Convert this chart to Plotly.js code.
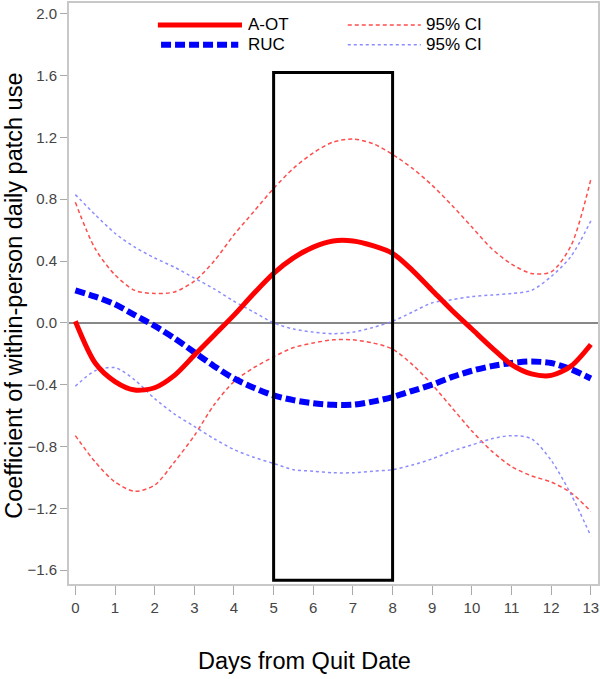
<!DOCTYPE html>
<html>
<head>
<meta charset="utf-8">
<script src="https://cdn.plot.ly/plotly-3.0.1.min.js"></script>
<style>
  html, body { margin: 0; padding: 0; background: #fff; }
  #chart { width: 600px; height: 679px; }
</style>
</head>
<body>
<div id="chart"></div>
<script>
// days from quit date, half-day steps
const days = [0, 0.5, 1, 1.5, 2, 2.5, 3, 3.5, 4, 4.5, 5, 5.5, 6, 6.5, 7,
  7.5, 8, 8.5, 9, 9.5, 10, 10.5, 11, 11.5, 12, 12.5, 13];

const aot = [0.01, -0.26, -0.38, -0.435, -0.42, -0.34, -0.21, -0.08, 0.05, 0.19, 0.32,
  0.42, 0.49, 0.53, 0.53, 0.50, 0.45, 0.34, 0.21, 0.08, -0.04, -0.16, -0.27, -0.33,
  -0.34, -0.28, -0.14];
const aotUpper = [0.78, 0.48, 0.31, 0.21, 0.19, 0.20, 0.27, 0.40, 0.57, 0.72, 0.87,
  1.00, 1.10, 1.17, 1.19, 1.16, 1.09, 1.00, 0.89, 0.76, 0.62, 0.48, 0.38, 0.32,
  0.33, 0.50, 0.93];
const aotLower = [-0.73, -0.90, -1.03, -1.09, -1.05, -0.90, -0.73, -0.53, -0.38, -0.29, -0.22,
  -0.16, -0.13, -0.11, -0.11, -0.13, -0.17, -0.27, -0.40, -0.55, -0.70, -0.83, -0.93, -0.99,
  -1.03, -1.10, -1.22];

const ruc = [0.21, 0.17, 0.12, 0.05, -0.02, -0.10, -0.19, -0.28, -0.36, -0.42, -0.47,
  -0.50, -0.52, -0.53, -0.53, -0.51, -0.48, -0.44, -0.40, -0.35, -0.31, -0.28, -0.26, -0.25,
  -0.26, -0.30, -0.36];
const rucUpper = [0.83, 0.70, 0.58, 0.49, 0.42, 0.36, 0.29, 0.22, 0.14, 0.07, 0.00,
  -0.04, -0.06, -0.07, -0.06, -0.03, 0.01, 0.07, 0.13, 0.15, 0.17, 0.18, 0.19, 0.21,
  0.30, 0.43, 0.66];
const rucLower = [-0.41, -0.31, -0.29, -0.37, -0.49, -0.59, -0.67, -0.75, -0.82, -0.87, -0.91,
  -0.95, -0.96, -0.97, -0.97, -0.96, -0.95, -0.92, -0.88, -0.83, -0.79, -0.75, -0.73, -0.75,
  -0.89, -1.11, -1.38];

const xTicks = [0, 1, 2, 3, 4, 5, 6, 7, 8, 9, 10, 11, 12, 13];
const yTicks = [-1.6, -1.2, -0.8, -0.4, 0.0, 0.4, 0.8, 1.2, 1.6, 2.0];

const legendNames = ["A-OT", "RUC", "95% CI", "95% CI"];

const sans = "Liberation Sans, Arial, sans-serif";

function curve(y, color, width, dash) {
  return {
    x: days,
    y: y,
    type: "scatter",
    mode: "lines",
    line: { color: color, width: width, dash: dash, shape: "spline", smoothing: 0.8 },
    showlegend: false,
    hoverinfo: "skip",
  };
}

const traces = [
  curve(aotUpper, "#ff4d4d", 1.5, "4px,3px"),
  curve(aotLower, "#ff4d4d", 1.5, "4px,3px"),
  curve(rucUpper, "#8c8cff", 1.5, "dot"),
  curve(rucLower, "#8c8cff", 1.5, "dot"),
  curve(ruc, "#0000ff", 6, "10px,4px"),
  curve(aot, "#ff0000", 5, "solid"),
];

// legend keys drawn in paper space
const row1 = 0.9623, row2 = 0.9280;
const shapes = [
  { type: "rect", xref: "x", yref: "y", x0: 5, x1: 8, y0: -1.665, y1: 1.62,
    line: { color: "#000", width: 3 } },
  { type: "line", xref: "paper", yref: "paper", x0: 0.168, x1: 0.327, y0: row1, y1: row1,
    line: { color: "#ff0000", width: 5 } },
  { type: "line", xref: "paper", yref: "paper", x0: 0.174, x1: 0.320, y0: row2, y1: row2,
    line: { color: "#0000ff", width: 6, dash: "10px,4px" } },
  { type: "line", xref: "paper", yref: "paper", x0: 0.527, x1: 0.665, y0: row1, y1: row1,
    line: { color: "#ff4d4d", width: 1.5, dash: "4px,3px" } },
  { type: "line", xref: "paper", yref: "paper", x0: 0.527, x1: 0.665, y0: row2, y1: row2,
    line: { color: "#8c8cff", width: 1.5, dash: "dot" } },
];

const legendPos = [[0.334, row1], [0.334, row2], [0.672, row1], [0.672, row2]];

const annotations = legendNames.map((t, i) => ({
  text: t, xref: "paper", yref: "paper", x: legendPos[i][0], y: legendPos[i][1],
  xanchor: "left", yanchor: "middle", showarrow: false,
  font: { family: sans, size: 17, color: "#000" },
}));

annotations.push({
  text: "Coefficient of within-person daily patch use",
  xref: "paper", yref: "paper", x: -0.104, y: 0.496,
  xanchor: "center", yanchor: "middle", textangle: -90, showarrow: false,
  font: { family: sans, size: 23.5, color: "#000" },
});
annotations.push({
  text: "Days from Quit Date",
  xref: "paper", yref: "paper", x: 0.446, y: -0.132,
  xanchor: "center", yanchor: "middle", showarrow: false,
  font: { family: sans, size: 23.5, color: "#000" },
});

const layout = {
  width: 600,
  height: 679,
  margin: { l: 69, r: 2, t: 3, b: 95 },
  paper_bgcolor: "#fff",
  plot_bgcolor: "#fff",
  showlegend: false,
  font: { family: sans, color: "#555" },
  xaxis: {
    range: [-0.16, 13.18],
    tickvals: xTicks,
    ticks: "outside",
    ticklen: 9,
    tickcolor: "#aaa",
    tickfont: { family: sans, size: 15, color: "#444" },
    showgrid: false,
    zeroline: false,
    showline: true,
    linecolor: "#c8c8c8",
    linewidth: 2,
    mirror: true,
  },
  yaxis: {
    range: [-1.69, 2.07],
    tickvals: yTicks,
    tickformat: ".1f",
    ticks: "outside",
    ticklen: 7,
    tickcolor: "#aaa",
    tickfont: { family: sans, size: 15, color: "#444" },
    showgrid: false,
    zeroline: true,
    zerolinecolor: "#888",
    zerolinewidth: 2,
    showline: true,
    linecolor: "#c8c8c8",
    linewidth: 2,
    mirror: true,
  },
  shapes: shapes,
  annotations: annotations,
};

Plotly.newPlot("chart", traces, layout, { displayModeBar: false, staticPlot: true });
</script>
</body>
</html>
